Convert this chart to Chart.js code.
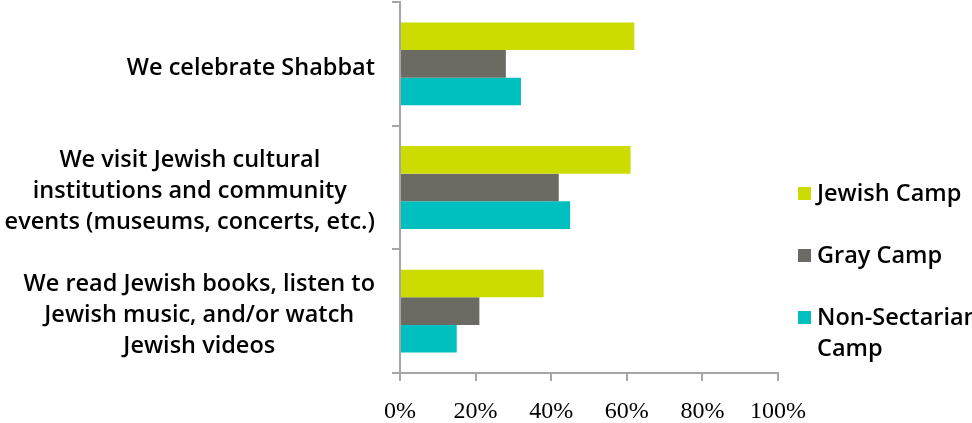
<!DOCTYPE html>
<html>
<head>
<meta charset="utf-8">
<title>Camp activities</title>
<script src="https://cdn.jsdelivr.net/npm/chart.js@4/dist/chart.umd.min.js"></script>
<style>
  html, body { margin: 0; padding: 0; background: #fff; overflow: hidden; }
  #wrap { width: 972px; height: 423px; }
</style>
</head>
<body>
<div id="wrap"><canvas id="myChart" width="972" height="423"></canvas></div>
<script>
// activities (one row each, lines of the label)
var activities = [
    ['We celebrate Shabbat'],
    ['We visit Jewish cultural', 'institutions and community', 'events (museums, concerts, etc.)'],
    ['We read Jewish books, listen to', 'Jewish music, and/or watch', 'Jewish videos']
];

// percent of families, per camp type
var jewishCamp = [62, 61, 38];
var grayCamp = [28, 42, 21];
var nonSectarianCamp = [32, 45, 15];

var campNames = ['Jewish Camp', 'Gray Camp', ['Non-Sectarian', 'Camp']];
var percentTicks = [0, 20, 40, 60, 80, 100];

var labelFont = '600 23.5px "Open Sans", "DejaVu Sans", sans-serif';
var axisColor = '#A6A6A6';

// row labels: each block is centered on its longest line, right edge near the axis
var rowLabels = {
    id: 'rowLabels',
    afterDraw: function(chart) {
        var ctx = chart.ctx;
        var y = chart.scales.y;
        var right = chart.chartArea.left - 25;
        ctx.save();
        ctx.font = labelFont;
        ctx.fillStyle = '#000';
        ctx.textAlign = 'center';
        ctx.textBaseline = 'middle';
        activities.forEach(function(lines, i) {
            var widest = 0;
            lines.forEach(function(l) { widest = Math.max(widest, ctx.measureText(l).width); });
            var cy = y.getPixelForValue(i) + 4;
            var lh = 31;
            lines.forEach(function(l, j) {
                ctx.fillText(l, right - widest / 2, cy + (j - (lines.length - 1) / 2) * lh);
            });
        });
        ctx.restore();
    }
};

// legend on the right with square markers
var sideLegend = {
    id: 'sideLegend',
    afterDraw: function(chart) {
        var ctx = chart.ctx;
        var x = chart.chartArea.right + 20;
        var top = 194;
        ctx.save();
        ctx.font = labelFont;
        ctx.textBaseline = 'middle';
        ctx.textAlign = 'left';
        chart.data.datasets.forEach(function(ds, i) {
            var cy = top + i * 62;
            ctx.fillStyle = ds.backgroundColor;
            ctx.fillRect(x, cy - 7, 13, 13);
            ctx.fillStyle = '#000';
            var lines = Array.isArray(ds.label) ? ds.label : [ds.label];
            lines.forEach(function(l, j) {
                ctx.fillText(l, x + 19, cy + j * 31);
            });
        });
        ctx.restore();
    }
};

var ctx = document.getElementById('myChart');

var myBarChart = new Chart(ctx, {
    type: 'bar',
    data: {
        labels: activities,
        datasets: [
            { label: campNames[0], data: jewishCamp, backgroundColor: '#CCDB00' },
            { label: campNames[1], data: grayCamp, backgroundColor: '#6B6B63' },
            { label: campNames[2], data: nonSectarianCamp, backgroundColor: '#00BFBF' }
        ]
    },
    options: {
        indexAxis: 'y',
        responsive: false,
        animation: false,
        events: [],
        categoryPercentage: 0.67,
        barPercentage: 1.0,
        layout: { padding: { top: 2, right: 194, left: 0, bottom: 0 } },
        plugins: {
            legend: { display: false },
            tooltip: { enabled: false }
        },
        scales: {
            x: {
                min: 0,
                max: 100,
                afterBuildTicks: function(scale) {
                    scale.ticks = percentTicks.map(function(v) { return { value: v }; });
                },
                afterFit: function(scale) { scale.height = 50; },
                ticks: {
                    color: '#000',
                    padding: 16,
                    font: { family: '"Liberation Serif", serif', size: 24 },
                    callback: function(v) { return v + '%'; }
                },
                grid: { drawOnChartArea: false, color: axisColor, lineWidth: 2, tickLength: 8 },
                border: { color: axisColor, width: 2 }
            },
            y: {
                afterFit: function(scale) { scale.width = 400; },
                ticks: { display: false },
                grid: { drawOnChartArea: false, color: axisColor, lineWidth: 2, tickLength: 8 },
                border: { color: axisColor, width: 2 }
            }
        }
    },
    plugins: [rowLabels, sideLegend]
});
</script>
</body>
</html>
